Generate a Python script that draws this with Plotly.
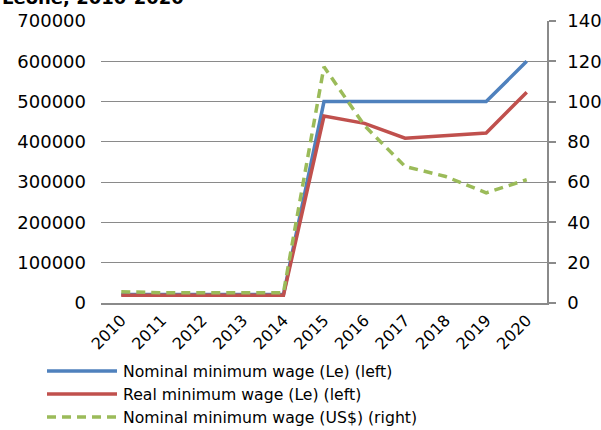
import plotly.graph_objects as go

years = ["2010", "2011", "2012", "2013", "2014", "2015", "2016", "2017", "2018", "2019", "2020"]
nominal_le = [21000, 21000, 21000, 21000, 21000, 500000, 500000, 500000, 500000, 500000, 600000]
real_le = [19000, 19000, 19000, 19000, 19000, 464000, 446000, 409000, 416000, 422000, 523000]
nominal_usd = [5.6, 5.1, 5.1, 5.1, 5.1, 117.3, 88.0, 67.8, 62.8, 54.7, 61.2]

names = ["Nominal minimum wage (Le) (left)",
         "Real minimum wage (Le) (left)",
         "Nominal minimum wage (US$) (right)"]
colors = ["#4F81BD", "#C0504D", "#9BBB59"]
dashes = ["solid", "solid", "9px,6px"]

FONT = "DejaVu Sans"
W, H = 601, 430
L, R, T, B = 101, 54, 21, 127
PW, PH = W - L - R, H - T - B

fig = go.Figure()
fig.add_trace(go.Scatter(x=years, y=nominal_le, mode="lines", name=names[0],
                         line=dict(color=colors[0], width=3.5), showlegend=False))
fig.add_trace(go.Scatter(x=years, y=real_le, mode="lines", name=names[1],
                         line=dict(color=colors[1], width=3.5), showlegend=False))
fig.add_trace(go.Scatter(x=years, y=nominal_usd, mode="lines", name=names[2], yaxis="y2",
                         line=dict(color=colors[2], width=3.5, dash=dashes[2]), showlegend=False))

grid = "#8a8a8a"

def px_x(p):
    return (p - L) / PW

def px_y(p):
    return (H - B - p) / PH

# manual legend
legend_rows = [371, 394, 417]
for i, yy in enumerate(legend_rows):
    fig.add_shape(type="line", xref="paper", yref="paper",
                  x0=px_x(47), x1=px_x(117), y0=px_y(yy), y1=px_y(yy),
                  line=dict(color=colors[i], width=3.5, dash=dashes[i]))
    fig.add_annotation(xref="paper", yref="paper", x=px_x(121), y=px_y(yy),
                       xanchor="left", yanchor="middle", showarrow=False,
                       text=names[i], font=dict(family=FONT, size=15.7, color="#000"))

# partially visible title (cut off at the top, as in the source)
fig.add_annotation(xref="paper", yref="paper", x=px_x(0), y=px_y(10),
                   xanchor="left", yanchor="bottom", showarrow=False,
                   text="<b>Leone, 2010-2020</b>",
                   font=dict(family=FONT, size=18, color="#000"))

fig.update_layout(
    width=W, height=H,
    margin=dict(l=L, r=R, t=T, b=B, autoexpand=False),
    paper_bgcolor="white", plot_bgcolor="white",
    font=dict(family=FONT, size=18, color="#000"),
    xaxis=dict(type="category", range=[-0.5, 10.5], showgrid=False, automargin=False,
               showline=True, linecolor=grid, linewidth=1.5, ticks="",
               tickangle=-45, tickfont=dict(size=16), zeroline=False),
    yaxis=dict(range=[0, 700000], dtick=100000, showgrid=True, gridcolor=grid,
               gridwidth=1.3, zeroline=False, showline=False, ticks="", automargin=False,
               tickformat="d", ticklabelstandoff=14),
    yaxis2=dict(range=[0, 140], dtick=20, overlaying="y", side="right", automargin=False,
                showgrid=False, zeroline=False, showline=True, linecolor=grid,
                linewidth=1.5, ticks="outside", ticklen=7, tickcolor=grid,
                tickwidth=1.5, ticklabelstandoff=8),
)

fig.write_html("out.html")
